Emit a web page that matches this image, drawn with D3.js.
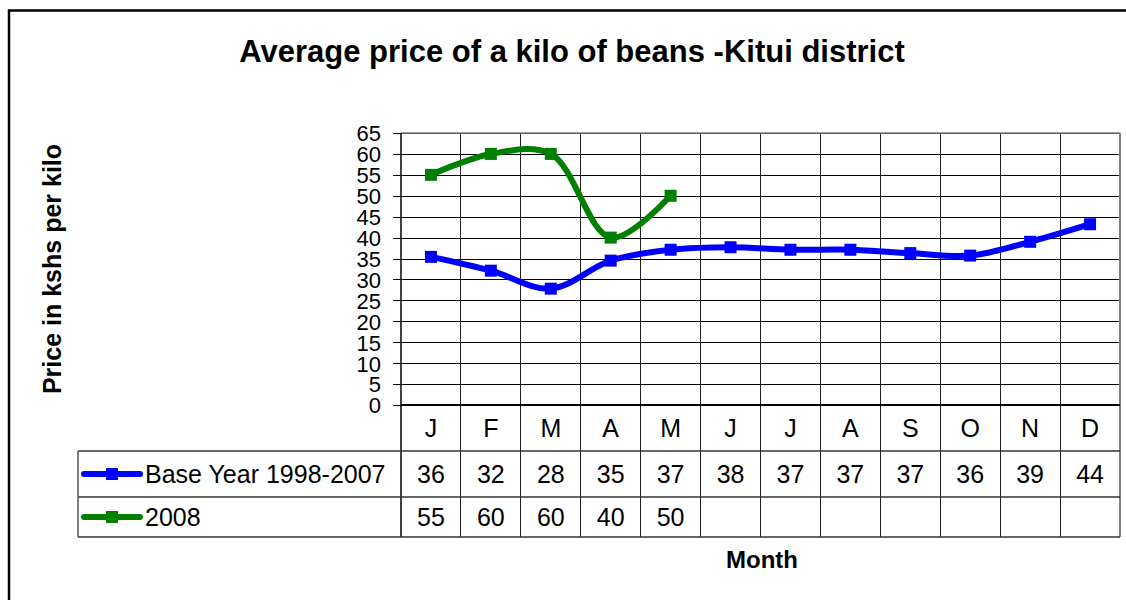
<!DOCTYPE html>
<html>
<head>
<meta charset="utf-8">
<script src="https://cdn.jsdelivr.net/npm/d3@7"></script>
<style>
  html, body { margin: 0; padding: 0; background: #fff; }
  svg { display: block; }
  text { font-family: "Liberation Sans", Arial, sans-serif; fill: #000; }
</style>
</head>
<body>
<svg id="chart" width="1126" height="600"></svg>
<script>
// ---- data ----
const months = ["J", "F", "M", "A", "M", "J", "J", "A", "S", "O", "N", "D"];
const baseValues = [35.4, 32.1, 27.8, 34.5, 37.1, 37.7, 37.1, 37.1, 36.3, 35.7, 39.0, 43.2];
const baseLabels = ["36", "32", "28", "35", "37", "38", "37", "37", "37", "36", "39", "44"];
const values2008 = [55, 60, 60, 40, 50];
const labels2008 = ["55", "60", "60", "40", "50"];
const yTicks = [0, 5, 10, 15, 20, 25, 30, 35, 40, 45, 50, 55, 60, 65];
const seriesNames = ["Base Year 1998-2007", "2008"];
const seriesColors = ["#0000FF", "#008000"];
const titleText = "Average price of a kilo of beans -Kitui district";
const yTitle = "Price in kshs per kilo";
const xTitle = "Month";

// ---- layout ----
const svg = d3.select("#chart");
const L = 401, R = 1120, T = 133, B = 405;
const row1 = 451, row2 = 497, tableBottom = 537, tableLeft = 78;
const tableFont = 25;

const x = d3.scaleBand().domain(d3.range(months.length)).range([L, R]);
const y = d3.scaleLinear().domain([0, 65]).range([B, T]);

// outer border
svg.append("rect").attr("x", 9).attr("y", 10.5).attr("width", 1140).attr("height", 620)
  .attr("fill", "none").attr("stroke", "#000").attr("stroke-width", 2.5);

// title
svg.append("text").attr("x", 572).attr("y", 62).attr("text-anchor", "middle")
  .attr("font-size", 31).attr("font-weight", "bold").text(titleText);

// y axis title
svg.append("text").attr("transform", "translate(61,269) rotate(-90)")
  .attr("text-anchor", "middle").attr("font-size", 25).attr("font-weight", "bold").text(yTitle);

// x axis title
svg.append("text").attr("x", 762).attr("y", 568).attr("text-anchor", "middle")
  .attr("font-size", 24).attr("font-weight", "bold").text(xTitle);

// y axis with gridlines
const yAxis = d3.axisLeft(y).tickValues(yTicks).tickSizeInner(-(R - L)).tickSizeOuter(0).tickPadding(0);
const gy = svg.append("g").attr("transform", `translate(${L},0)`).call(yAxis);
gy.select(".domain").remove();
gy.selectAll(".tick line").attr("x1", -8).attr("stroke", "#000").attr("stroke-width", 1)
  .attr("shape-rendering", "crispEdges");
gy.selectAll(".tick text").attr("x", -20).attr("dy", "0.36em")
  .attr("font-size", 22).attr("font-family", "'Liberation Sans', Arial, sans-serif").attr("fill", "#000");

// vertical grid lines (column boundaries) through plot + table
const bounds = d3.range(months.length + 1).map(i => i < months.length ? x(i) : R);
svg.append("g").selectAll("line").data(bounds.slice(1, -1)).join("line")
  .attr("x1", d => d).attr("x2", d => d).attr("y1", T).attr("y2", tableBottom)
  .attr("stroke", "#222").attr("stroke-width", 1).attr("shape-rendering", "crispEdges");

// plot frame: top and right in gray
svg.append("line").attr("x1", L).attr("x2", R).attr("y1", T).attr("y2", T)
  .attr("stroke", "#808080").attr("stroke-width", 1.5);
svg.append("line").attr("x1", R).attr("x2", R).attr("y1", T).attr("y2", tableBottom)
  .attr("stroke", "#808080").attr("stroke-width", 2);
// left axis
svg.append("line").attr("x1", L).attr("x2", L).attr("y1", T).attr("y2", tableBottom)
  .attr("stroke", "#000").attr("stroke-width", 1.5);
// x axis
svg.append("line").attr("x1", L).attr("x2", R).attr("y1", B).attr("y2", B)
  .attr("stroke", "#000").attr("stroke-width", 2);

// table lines
[row1, row2, tableBottom].forEach(yy => {
  svg.append("line").attr("x1", tableLeft).attr("x2", R).attr("y1", yy).attr("y2", yy)
    .attr("stroke", "#333").attr("stroke-width", 1.5);
});
svg.append("line").attr("x1", tableLeft).attr("x2", tableLeft).attr("y1", row1).attr("y2", tableBottom)
  .attr("stroke", "#555").attr("stroke-width", 1.5);

// month labels
svg.append("g").selectAll("text").data(months).join("text")
  .attr("x", (d, i) => x(i) + x.bandwidth() / 2).attr("y", (B + row1) / 2)
  .attr("dy", "0.36em").attr("text-anchor", "middle").attr("font-size", tableFont).text(d => d);

// table values
svg.append("g").selectAll("text").data(baseLabels).join("text")
  .attr("x", (d, i) => x(i) + x.bandwidth() / 2).attr("y", (row1 + row2) / 2)
  .attr("dy", "0.36em").attr("text-anchor", "middle").attr("font-size", tableFont).text(d => d);
svg.append("g").selectAll("text").data(labels2008).join("text")
  .attr("x", (d, i) => x(i) + x.bandwidth() / 2).attr("y", (row2 + tableBottom) / 2)
  .attr("dy", "0.36em").attr("text-anchor", "middle").attr("font-size", tableFont).text(d => d);

// legend keys in table
const legendRows = [(row1 + row2) / 2, (row2 + tableBottom) / 2];
seriesNames.forEach((name, k) => {
  const cy = legendRows[k];
  svg.append("line").attr("x1", 84).attr("x2", 140).attr("y1", cy).attr("y2", cy)
    .attr("stroke", seriesColors[k]).attr("stroke-width", 6).attr("stroke-linecap", "round");
  svg.append("rect").attr("x", 106).attr("y", cy - 6).attr("width", 12).attr("height", 12)
    .attr("fill", seriesColors[k]);
  svg.append("text").attr("x", 145).attr("y", cy).attr("dy", "0.36em")
    .attr("font-size", tableFont).text(name);
});

// series lines
const line = d3.line().x(d => x(d.i) + x.bandwidth() / 2).y(d => y(d.v)).curve(d3.curveCatmullRom.alpha(0.5));
const seriesData = [
  baseValues.map((v, i) => ({ i, v })),
  values2008.map((v, i) => ({ i, v }))
];
seriesData.forEach((data, k) => {
  svg.append("path").datum(data).attr("d", line).attr("fill", "none")
    .attr("stroke", seriesColors[k]).attr("stroke-width", 6).attr("stroke-linejoin", "round");
  svg.append("g").selectAll("rect").data(data).join("rect")
    .attr("x", d => x(d.i) + x.bandwidth() / 2 - 6).attr("y", d => y(d.v) - 6)
    .attr("width", 12).attr("height", 12).attr("fill", seriesColors[k]);
});
</script>
</body>
</html>
